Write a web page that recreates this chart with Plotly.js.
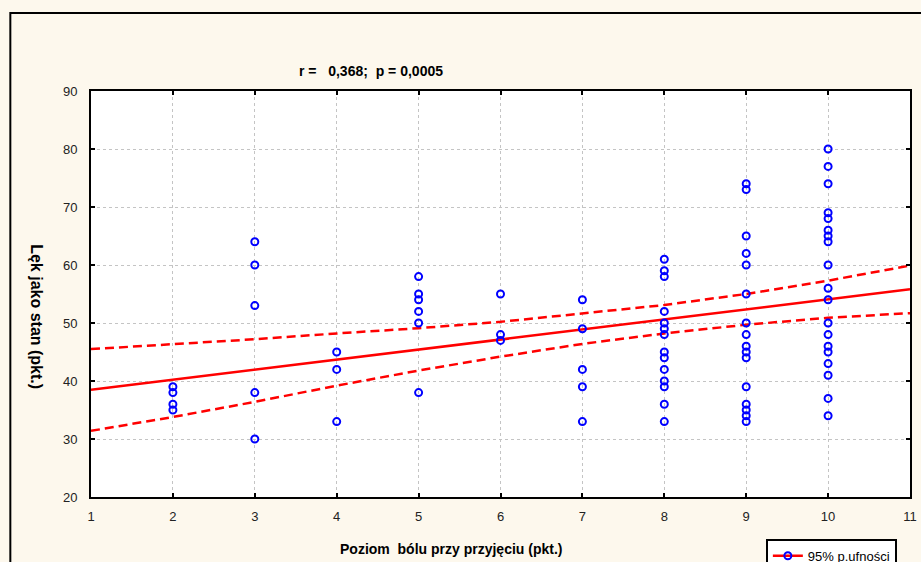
<!DOCTYPE html>
<html>
<head>
<meta charset="utf-8">
<script src="https://cdn.plot.ly/plotly-3.0.1.min.js"></script>
<style>html,body{margin:0;padding:0;background:#fdf8ed;}</style>
</head>
<body>
<div id="chart" style="width:921px;height:562px;"></div>
<script>
// Scatter data: pain level at admission (x) vs state anxiety (y)
const painX = [
  2,2,2,2,
  3,3,3,3,3,
  4,4,4,
  5,5,5,5,5,5,
  6,6,6,
  7,7,7,7,7,
  8,8,8,8,8,8,8,8,8,8,8,8,8,8,
  9,9,9,9,9,9,9,9,9,9,9,9,9,9,9,9,
  10,10,10,10,10,10,10,10,10,10,10,10,10,10,10,10,10,10,10
];
const anxietyY = [
  39,38,36,35,
  64,60,53,38,30,
  45,42,33,
  58,55,54,52,50,38,
  55,48,47,
  54,49,42,39,33,
  61,59,58,52,50,49,48,45,44,42,40,39,36,33,
  74,73,65,62,60,55,50,48,46,45,44,39,36,35,34,33,
  80,77,74,69,68,66,65,64,60,56,54,50,48,46,45,43,41,37,34
];
// Regression line and 95% confidence band
const fitX = [1, 11];
const fitY = [38.5, 55.8];
const bandX = [1,2,3,4,5,6,7,8,9,10,11];
const bandUpper = [45.5,46.3,47.2,48.2,49.1,50.2,51.6,53.1,55.0,57.3,59.9];
const bandLower = [31.4,33.8,36.4,39.2,41.8,44.2,46.4,48.2,49.7,50.9,51.7];
const xTicks = [1,2,3,4,5,6,7,8,9,10,11];
const yTicks = [20,30,40,50,60,70,80,90];

const red = '#ff0000', blue = '#0000ff';
const dashPat = '9px,5px';

const traces = [
  {x: bandX, y: bandUpper, mode:'lines', line:{color:red, width:2.5, dash:dashPat}, showlegend:false, hoverinfo:'skip'},
  {x: bandX, y: bandLower, mode:'lines', line:{color:red, width:2.5, dash:dashPat}, showlegend:false, hoverinfo:'skip'},
  {x: fitX, y: fitY, mode:'lines', line:{color:red, width:2.5}, showlegend:false},
  {x: painX, y: anxietyY, mode:'markers', marker:{symbol:'circle-open', size:7, color:blue, line:{width:2, color:blue}}, showlegend:false},
  {x:[null], y:[null], mode:'lines+markers', name:'95% p.ufności',
   line:{color:red, width:2.5}, marker:{symbol:'circle-open', size:7, color:blue, line:{width:2,color:blue}}, showlegend:true}
];

const font = {family:'Liberation Sans, Arial, sans-serif', size:13, color:'#222'};
const axisCommon = {
  showline:true, mirror:'ticks', linecolor:'#000', linewidth:2,
  ticks:'inside', ticklen:4, tickwidth:2, tickcolor:'#000',
  showgrid:true, gridcolor:'#c4c4c4', gridwidth:1, griddash:'dot',
  zeroline:false, tickfont:font, automargin:false
};

const layout = {
  width:921, height:562,
  paper_bgcolor:'#fdf8ed', plot_bgcolor:'#ffffff',
  margin:{l:91, r:11, t:91, b:65, autoexpand:false},
  font: font,
  xaxis: Object.assign({}, axisCommon, {range:[1,11], tickvals:xTicks, ticklabelstandoff:6}),
  yaxis: Object.assign({}, axisCommon, {range:[20,90], tickvals:yTicks, ticklabelstandoff:9}),
  showlegend:true,
  legend:{x:0.824, y:-0.103, xanchor:'left', yanchor:'top', bgcolor:'#ffffff',
          bordercolor:'#000', borderwidth:2, font:{family:'Liberation Sans, Arial, sans-serif', size:13, color:'#000'}},
  annotations:[
    {text:'<b>r =\u00a0\u00a0 0,368;\u00a0 p = 0,0005</b>', xref:'paper', yref:'paper', x:0.342, y:1.049,
     showarrow:false, xanchor:'center', yanchor:'middle', font:{family:'Liberation Sans, Arial, sans-serif', size:14, color:'#000'}},
    {text:'<b>Poziom\u00a0 bólu przy przyjęciu (pkt.)</b>', xref:'paper', yref:'paper', x:0.44, y:-0.128,
     showarrow:false, xanchor:'center', yanchor:'middle', font:{family:'Liberation Sans, Arial, sans-serif', size:14, color:'#000'}},
    {text:'<b>Lęk jako stan (pkt.)</b>', xref:'paper', yref:'paper', x:-0.066, y:0.443, textangle:90,
     showarrow:false, xanchor:'center', yanchor:'middle', font:{family:'Liberation Sans, Arial, sans-serif', size:16, color:'#000'}}
  ],
  shapes:[
    {type:'rect', xref:'paper', yref:'paper', x0:-0.0985, x1:1.05, y0:-0.2, y1:1.192,
     line:{color:'#000', width:2}, fillcolor:'rgba(0,0,0,0)', layer:'below'}
  ]
};

Plotly.newPlot('chart', traces, layout, {displayModeBar:false, staticPlot:true});
</script>
</body>
</html>
